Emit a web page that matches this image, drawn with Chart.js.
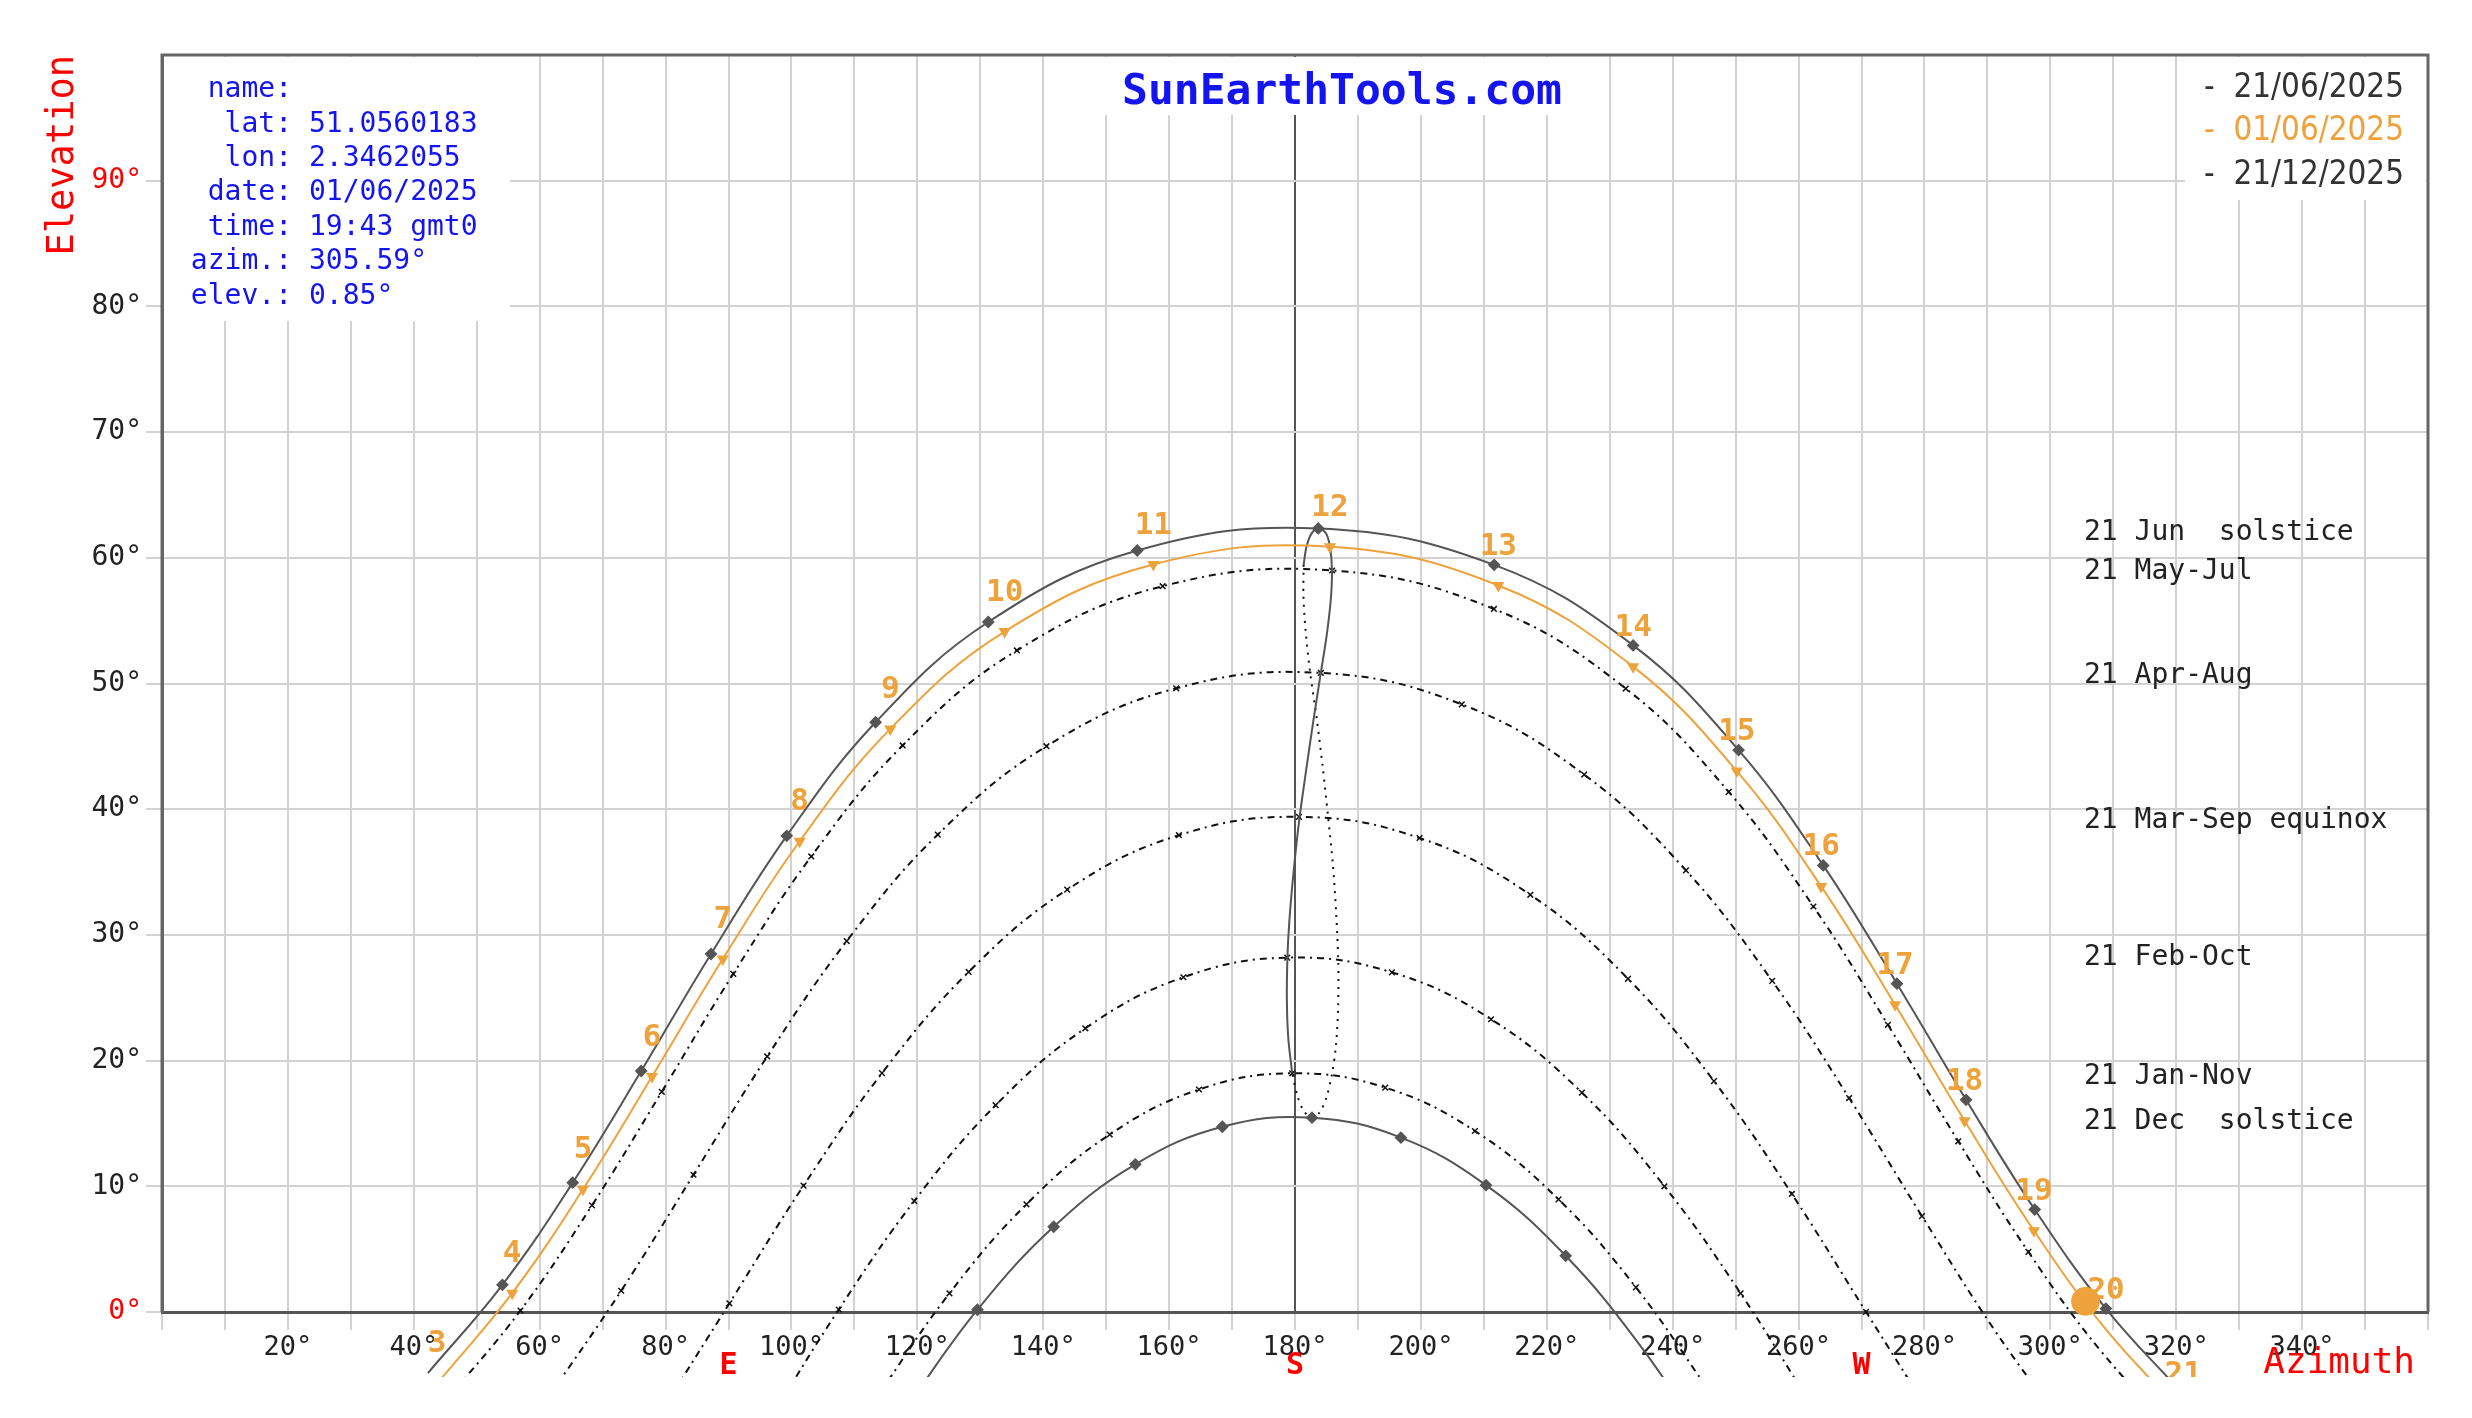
<!DOCTYPE html>
<html>
<head>
<meta charset="utf-8">
<script src="https://cdn.jsdelivr.net/npm/chart.js@4.4.1/dist/chart.umd.min.js"></script>
<style>
  html, body { margin: 0; padding: 0; background: #fff; }
  #sun { display: block; }
</style>
</head>
<body>
<canvas id="sun" width="2472" height="1418"></canvas>
<script>
// sun path at lat 51.0560183 / lon 2.3462055, hour marks in gmt0

var jun21Hours = [3, 4, 5, 6, 7, 8, 9, 10, 11, 12, 13, 14, 15, 16, 17, 18, 19, 20, 21];
var jun21Az = [42.24, 54.08, 65.25, 76.13, 87.22, 99.25, 113.37, 131.27, 154.94, 183.70, 211.64, 233.72, 250.47, 263.92, 275.63, 286.61, 297.52, 308.82, 320.87];
var jun21El = [-4.86, 2.16, 10.29, 19.17, 28.48, 37.88, 46.92, 54.89, 60.58, 62.34, 59.44, 53.03, 44.70, 35.53, 26.12, 16.88, 8.15, 0.27, -6.41];

var jun01Hours = [3, 4, 5, 6, 7, 8, 9, 10, 11, 12, 13, 14, 15, 16, 17, 18, 19, 20, 21];
var jun01Az = [43.72, 55.63, 66.88, 77.85, 89.08, 101.31, 115.70, 133.87, 157.49, 185.55, 212.31, 233.72, 250.19, 263.59, 275.33, 286.38, 297.40, 308.86, 321.12];
var jun01El = [-5.68, 1.50, 9.76, 18.73, 28.08, 37.45, 46.39, 54.13, 59.47, 60.88, 57.80, 51.34, 43.03, 33.86, 24.45, 15.21, 6.47, -1.41, -8.08];

var dec21Az = [118.20, 129.55, 141.66, 154.63, 168.46, 182.70, 196.83, 210.34, 223.00, 234.79, 245.93];
var dec21El = [-7.63, 0.18, 6.78, 11.75, 14.74, 15.46, 13.87, 10.09, 4.47, -2.63, -10.82];

var mayAz = [44.88, 56.95, 68.31, 79.40, 90.76, 103.15, 117.67, 135.82, 158.97, 185.89, 211.60, 232.54, 248.91, 262.36, 274.20, 285.37, 296.52, 308.13, 320.58];
var mayEl = [-7.19, 0.12, 8.48, 17.52, 26.90, 36.24, 45.07, 52.63, 57.74, 58.99, 55.93, 49.60, 41.38, 32.26, 22.85, 13.58, 4.78, -3.17, -9.91];

var aprAz = [61.09, 72.95, 84.44, 96.15, 108.78, 123.25, 140.51, 161.13, 184.11, 206.49, 225.94, 242.11, 255.81, 268.04, 279.60, 291.15, 303.27];
var aprEl = [-6.99, 1.69, 10.92, 20.33, 29.51, 37.98, 45.01, 49.62, 50.84, 48.34, 42.75, 35.13, 26.34, 17.02, 7.63, -1.45, -9.82];

var marAz = [78.38, 90.14, 101.92, 114.38, 128.15, 143.81, 161.55, 180.63, 199.79, 217.39, 232.90, 246.56, 258.94, 270.72, 282.49];
var marEl = [-8.68, 0.69, 10.05, 19.00, 27.05, 33.60, 37.93, 39.39, 37.71, 33.19, 26.51, 18.37, 9.39, 0.01, -9.34];

var febAz = [95.98, 107.52, 119.51, 132.44, 146.69, 162.27, 178.77, 195.39, 211.15, 225.58, 238.69, 250.79, 262.37];
var febEl = [-9.02, 0.20, 8.83, 16.45, 22.57, 26.63, 28.19, 27.02, 23.29, 17.45, 10.00, 1.49, -7.67];

var janAz = [113.62, 125.10, 137.34, 150.56, 164.75, 179.56, 194.34, 208.58, 221.87, 234.16, 245.68];
var janEl = [-6.72, 1.48, 8.57, 14.12, 17.70, 18.99, 17.85, 14.40, 8.96, 1.96, -6.19];

// noon (12:00 gmt0) through the year: 21 Jan -> 21 Jul solid, 21 Jul -> 21 Jan dotted
var noonFirstAz = [179.55, 178.94, 178.71, 178.80, 179.12, 179.78, 180.67, 181.84, 182.98, 184.10, 185.04, 185.68, 185.88, 185.57, 184.89, 183.70, 182.74, 181.85, 181.37];
var noonFirstEl = [19.04, 21.74, 24.74, 28.24, 31.24, 35.04, 39.14, 43.34, 47.24, 50.84, 53.85, 56.64, 58.94, 60.86, 61.98, 62.34, 62.02, 60.94, 59.44];
var noonSecondAz = [181.37, 181.34, 181.68, 182.36, 183.45, 184.39, 185.24, 186.02, 186.54, 186.87, 186.85, 186.49, 185.84, 184.95, 183.87, 182.70, 181.46, 180.41, 179.55];
var noonSecondEl = [59.44, 56.94, 54.24, 51.04, 47.21, 43.40, 39.48, 35.58, 31.74, 27.91, 24.20, 21.11, 18.85, 17.00, 15.85, 15.46, 15.94, 17.14, 19.04];

var nowAz = [305.59];
var nowEl = [0.85];

var bandNames = ['21 Jun  solstice', '21 May-Jul', '21 Apr-Aug', '21 Mar-Sep equinox', '21 Feb-Oct', '21 Jan-Nov', '21 Dec  solstice'];
var bandEl = [62.0, 58.9, 50.6, 39.1, 28.2, 18.7, 15.1];

var legendDates = ['21/06/2025', '01/06/2025', '21/12/2025'];
var infoKeys = ['name:', 'lat:', 'lon:', 'date:', 'time:', 'azim.:', 'elev.:'];
var infoValues = ['', '51.0560183', '2.3462055', '01/06/2025', '19:43 gmt0', '305.59°', '0.85°'];
var compass = [[90, 'E'], [180, 'S'], [270, 'W']];

var MONO = '"DejaVu Sans Mono", "Liberation Mono", monospace';
var GREY = '#555555';
var ORANGE = '#eda23c';
var BLUE = '#1414f0';
var RED = '#ff0000';
var belowZero = {left: 0, top: 0, right: 0, bottom: 65};

function pts(az, el) {
	var out = [];
	for (var i = 0; i < az.length; i++) {
		out.push({x: az[i], y: el[i]});
	}
	return out;
}

function monthSet(az, el) {
	return {
		data: pts(az, el),
		showLine: true,
		borderColor: '#111',
		borderWidth: 2,
		borderDash: [7, 5, 2, 5],
		tension: 0.4,
		pointStyle: 'crossRot',
		pointRadius: 4,
		pointBorderWidth: 1.5,
		pointBorderColor: '#111',
		pointBackgroundColor: '#111',
		clip: belowZero
	};
}

var sunText = {
	id: 'sunText',
	beforeDatasetsDraw: function(chart) {
		var ctx = chart.ctx, ca = chart.chartArea;
		ctx.save();
		ctx.fillStyle = '#fff';
		ctx.fillRect(ca.left + 2, ca.top + 2, 346, 264);
		ctx.fillRect(1104, ca.top + 2, 460, 58);
		ctx.fillRect(2185, ca.top + 2, ca.right - 2185 - 2, 143);
		ctx.strokeStyle = '#666';
		ctx.lineWidth = 3;
		ctx.beginPath();
		ctx.moveTo(ca.left, ca.bottom);
		ctx.lineTo(ca.left, ca.top);
		ctx.lineTo(ca.right, ca.top);
		ctx.lineTo(ca.right, ca.bottom);
		ctx.stroke();
		ctx.restore();
	},
	afterDatasetsDraw: function(chart) {
		var ctx = chart.ctx, ca = chart.chartArea;
		var meta = chart.getDatasetMeta(1);
		ctx.save();
		ctx.beginPath();
		ctx.rect(ca.left, ca.top, ca.right - ca.left, ca.bottom + 65 - ca.top);
		ctx.clip();
		ctx.font = 'bold 31px ' + MONO;
		ctx.fillStyle = ORANGE;
		ctx.textAlign = 'center';
		ctx.textBaseline = 'middle';
		meta.data.forEach(function(p, i) {
			ctx.fillText(String(jun01Hours[i]), p.x, p.y - 39);
		});
		ctx.restore();
	},
	afterDraw: function(chart) {
		var ctx = chart.ctx, ca = chart.chartArea;
		var xs = chart.scales.x, ys = chart.scales.y;
		ctx.save();
		ctx.textBaseline = 'middle';

		// title
		ctx.font = 'bold 43px ' + MONO;
		ctx.fillStyle = BLUE;
		ctx.textAlign = 'center';
		ctx.fillText('SunEarthTools.com', 1342, 93, 440);

		// info box
		ctx.font = '28px ' + MONO;
		for (var i = 0; i < infoKeys.length; i++) {
			var y = 90 + i * 34.4;
			ctx.textAlign = 'right';
			ctx.fillText(infoKeys[i], 292, y);
			ctx.textAlign = 'left';
			ctx.fillText(infoValues[i], 309, y);
		}

		// legend
		ctx.font = '34px "DejaVu Sans Condensed", "DejaVu Sans", sans-serif';
		ctx.textAlign = 'right';
		var legendColors = ['#333', ORANGE, '#333'];
		for (var j = 0; j < legendDates.length; j++) {
			ctx.fillStyle = legendColors[j];
			ctx.fillText('-  ' + legendDates[j], 2404, 88 + j * 43.5, 200);
		}

		// month band names
		ctx.font = '28px ' + MONO;
		ctx.fillStyle = '#222';
		ctx.textAlign = 'left';
		for (var k = 0; k < bandNames.length; k++) {
			ctx.fillText(bandNames[k], 2084, ys.getPixelForValue(bandEl[k]));
		}

		// compass and axis names
		ctx.fillStyle = RED;
		ctx.font = 'bold 30px ' + MONO;
		ctx.textAlign = 'center';
		compass.forEach(function(c) {
			ctx.fillText(c[1], xs.getPixelForValue(c[0]), 1366);
		});
		ctx.font = '36px ' + MONO;
		ctx.textAlign = 'right';
		ctx.fillText('Azimuth', 2415, 1364, 158);

		ctx.translate(63, ca.top);
		ctx.rotate(-Math.PI / 2);
		ctx.font = '37px ' + MONO;
		ctx.textAlign = 'right';
		ctx.fillText('Elevation', 0, 0, 205);
		ctx.restore();
	}
};

var datasets = [
	{
		data: pts(nowAz, nowEl),
		pointRadius: 14,
		pointStyle: 'circle',
		pointBackgroundColor: ORANGE,
		pointBorderColor: ORANGE,
		clip: belowZero
	},
	{
		data: pts(jun01Az, jun01El),
		showLine: true,
		borderColor: ORANGE,
		borderWidth: 2,
		tension: 0.4,
		pointStyle: 'triangle',
		rotation: 180,
		pointRadius: 5,
		pointBackgroundColor: ORANGE,
		pointBorderColor: ORANGE,
		clip: belowZero
	},
	{
		data: pts(jun21Az, jun21El),
		showLine: true,
		borderColor: GREY,
		borderWidth: 2,
		tension: 0.4,
		pointStyle: 'rectRot',
		pointRadius: 5,
		pointBackgroundColor: GREY,
		pointBorderColor: GREY,
		clip: belowZero
	},
	{
		data: pts(dec21Az, dec21El),
		showLine: true,
		borderColor: GREY,
		borderWidth: 2,
		tension: 0.4,
		pointStyle: 'rectRot',
		pointRadius: 5,
		pointBackgroundColor: GREY,
		pointBorderColor: GREY,
		clip: belowZero
	},
	{
		data: pts(noonFirstAz, noonFirstEl),
		showLine: true,
		borderColor: GREY,
		borderWidth: 2,
		tension: 0.3,
		pointRadius: 0,
		clip: belowZero
	},
	{
		data: pts(noonSecondAz, noonSecondEl),
		showLine: true,
		borderColor: '#111',
		borderWidth: 2,
		borderDash: [2, 6],
		tension: 0.3,
		pointRadius: 0,
		clip: belowZero
	},
	monthSet(mayAz, mayEl),
	monthSet(aprAz, aprEl),
	monthSet(marAz, marEl),
	monthSet(febAz, febEl),
	monthSet(janAz, janEl)
];

var ctxS = document.getElementById('sun').getContext('2d');
window.sunChart = new Chart(ctxS, {
	type: 'scatter',
	data: { datasets: datasets },
	options: {
		responsive: false,
		animation: false,
		devicePixelRatio: 1,
		layout: { padding: { left: 0, right: 44, top: 55, bottom: 0 } },
		plugins: {
			legend: { display: false },
			tooltip: { enabled: false }
		},
		scales: {
			x: {
				type: 'linear',
				position: 'bottom',
				min: 0,
				max: 360,
				afterFit: function(s) { s.height = 106; },
				grid: {
					color: function(c) { return c.tick && c.tick.value === 180 ? GREY : '#d2d2d2'; },
					tickColor: '#d2d2d2',
					lineWidth: 2,
					tickLength: 18
				},
				border: { display: true, color: GREY, width: 3 },
				ticks: {
					stepSize: 10,
					autoSkip: false,
					maxRotation: 0,
					padding: 2,
					color: '#222',
					font: { family: MONO, size: 27 },
					callback: function(v) {
						return (v % 20 === 0 && v > 0 && v < 360) ? v + '°' : '';
					}
				}
			},
			y: {
				type: 'linear',
				min: 0,
				max: 100,
				afterFit: function(s) { s.width = 162; },
				grid: {
					color: '#d2d2d2',
					tickColor: function(c) { return c.tick && c.tick.value === 100 ? 'rgba(0,0,0,0)' : '#d2d2d2'; },
					lineWidth: 2,
					tickLength: 16
				},
				border: { display: true, color: '#666', width: 3 },
				ticks: {
					stepSize: 10,
					padding: 4,
					font: { family: MONO, size: 28 },
					color: function(c) { return (c.tick.value === 0 || c.tick.value === 90) ? RED : '#222'; },
					callback: function(v) { return v <= 90 ? v + '°' : ''; }
				}
			}
		}
	},
	plugins: [sunText]
});
</script>
</body>
</html>
